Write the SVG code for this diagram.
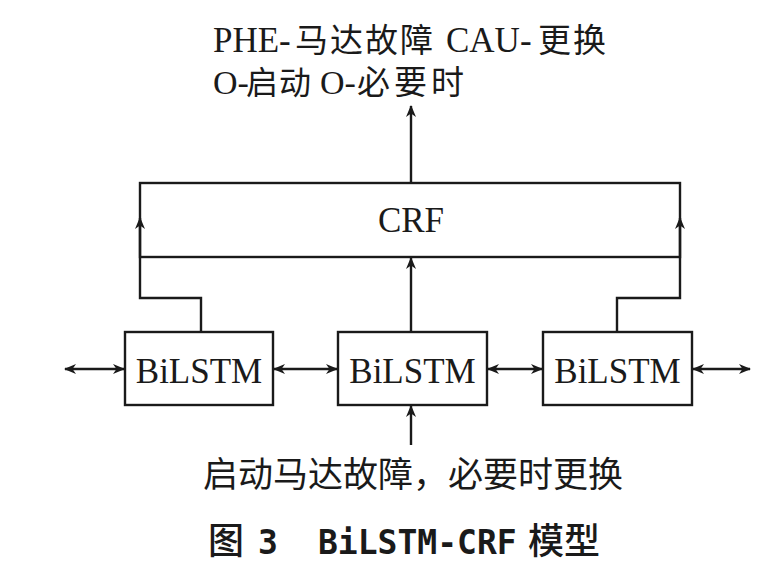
<svg xmlns="http://www.w3.org/2000/svg" width="770" height="569" viewBox="0 0 770 569">
<style>
.box{fill:#fff;stroke:#1a1a1a;stroke-width:2.4}
.ln{fill:none;stroke:#1a1a1a;stroke-width:2.4}
.t{font-family:"Liberation Serif","Noto Sans CJK SC",serif;fill:#1a1a1a}
.c{font-family:"Noto Sans CJK SC",sans-serif;fill:#1a1a1a}
.m{font-family:"DejaVu Sans Mono",monospace;fill:#1a1a1a}
</style>
<defs>
<marker id="ah" viewBox="0 0 12 10" refX="11" refY="5" markerWidth="12" markerHeight="10" markerUnits="userSpaceOnUse" orient="auto-start-reverse">
<path d="M0,0 L12,5 L0,10 L3.5,5 z" fill="#1a1a1a"/>
</marker>
</defs>
<rect width="770" height="569" fill="#fff"/>
<g id="connectors">
<line class="ln" x1="411" y1="183" x2="411" y2="106" marker-end="url(#ah)"/>
<line class="ln" x1="411" y1="332" x2="411" y2="258" marker-end="url(#ah)"/>
<line class="ln" x1="411" y1="445" x2="411" y2="406" marker-end="url(#ah)"/>
<path class="ln" d="M201,332 V298 H140 V218" marker-end="url(#ah)"/>
<path class="ln" d="M617,332 V298 H680 V218" marker-end="url(#ah)"/>
<line class="ln" x1="65" y1="369" x2="124" y2="369" marker-start="url(#ah)" marker-end="url(#ah)"/>
<line class="ln" x1="274" y1="369" x2="337" y2="369" marker-start="url(#ah)" marker-end="url(#ah)"/>
<line class="ln" x1="488" y1="369" x2="542" y2="369" marker-start="url(#ah)" marker-end="url(#ah)"/>
<line class="ln" x1="693" y1="369" x2="750" y2="369" marker-start="url(#ah)" marker-end="url(#ah)"/>
</g>
<g id="crf">
<rect class="box" x="140" y="183" width="540" height="74" style="fill:none"/>
<text class="t" x="411" y="232" font-size="35" text-anchor="middle">CRF</text>
</g>
<g id="bilstm1">
<rect class="box" x="125" y="332" width="148" height="73"/>
<text class="t" x="199" y="383" font-size="35" text-anchor="middle">BiLSTM</text>
</g>
<g id="bilstm2">
<rect class="box" x="338" y="332" width="149" height="73"/>
<text class="t" x="412.5" y="383" font-size="35" text-anchor="middle">BiLSTM</text>
</g>
<g id="bilstm3">
<rect class="box" x="543" y="332" width="149" height="73"/>
<text class="t" x="617.5" y="383" font-size="35" text-anchor="middle">BiLSTM</text>
</g>
<g id="output-label">
<text class="t" x="213" y="52" font-size="35">PHE-</text>
<text class="c" x="295" y="52" font-size="33" letter-spacing="2">马达故障</text>
<text class="t" x="446" y="52" font-size="35">CAU-</text>
<text class="c" x="538" y="52" font-size="33" letter-spacing="2">更换</text>
<text class="t" x="213" y="94" font-size="34">O-</text>
<text class="c" x="246" y="94" font-size="32" letter-spacing="1">启动</text>
<text class="t" x="320" y="94" font-size="34">O-</text>
<text class="c" x="357" y="94" font-size="33" letter-spacing="4">必要时</text>
</g>
<g id="input-label">
<text class="c" x="413" y="487" font-size="35" text-anchor="middle">启动马达故障，必要时更换</text>
</g>
<g id="caption">
<text class="c" x="208" y="554" font-size="36" font-weight="500">图</text>
<text class="m" x="258" y="554" font-size="33" font-weight="bold">3</text>
<text class="m" x="318" y="554" font-size="33" font-weight="bold">BiLSTM-CRF</text>
<text class="c" x="528" y="554" font-size="36" font-weight="500">模型</text>
</g>
</svg>
